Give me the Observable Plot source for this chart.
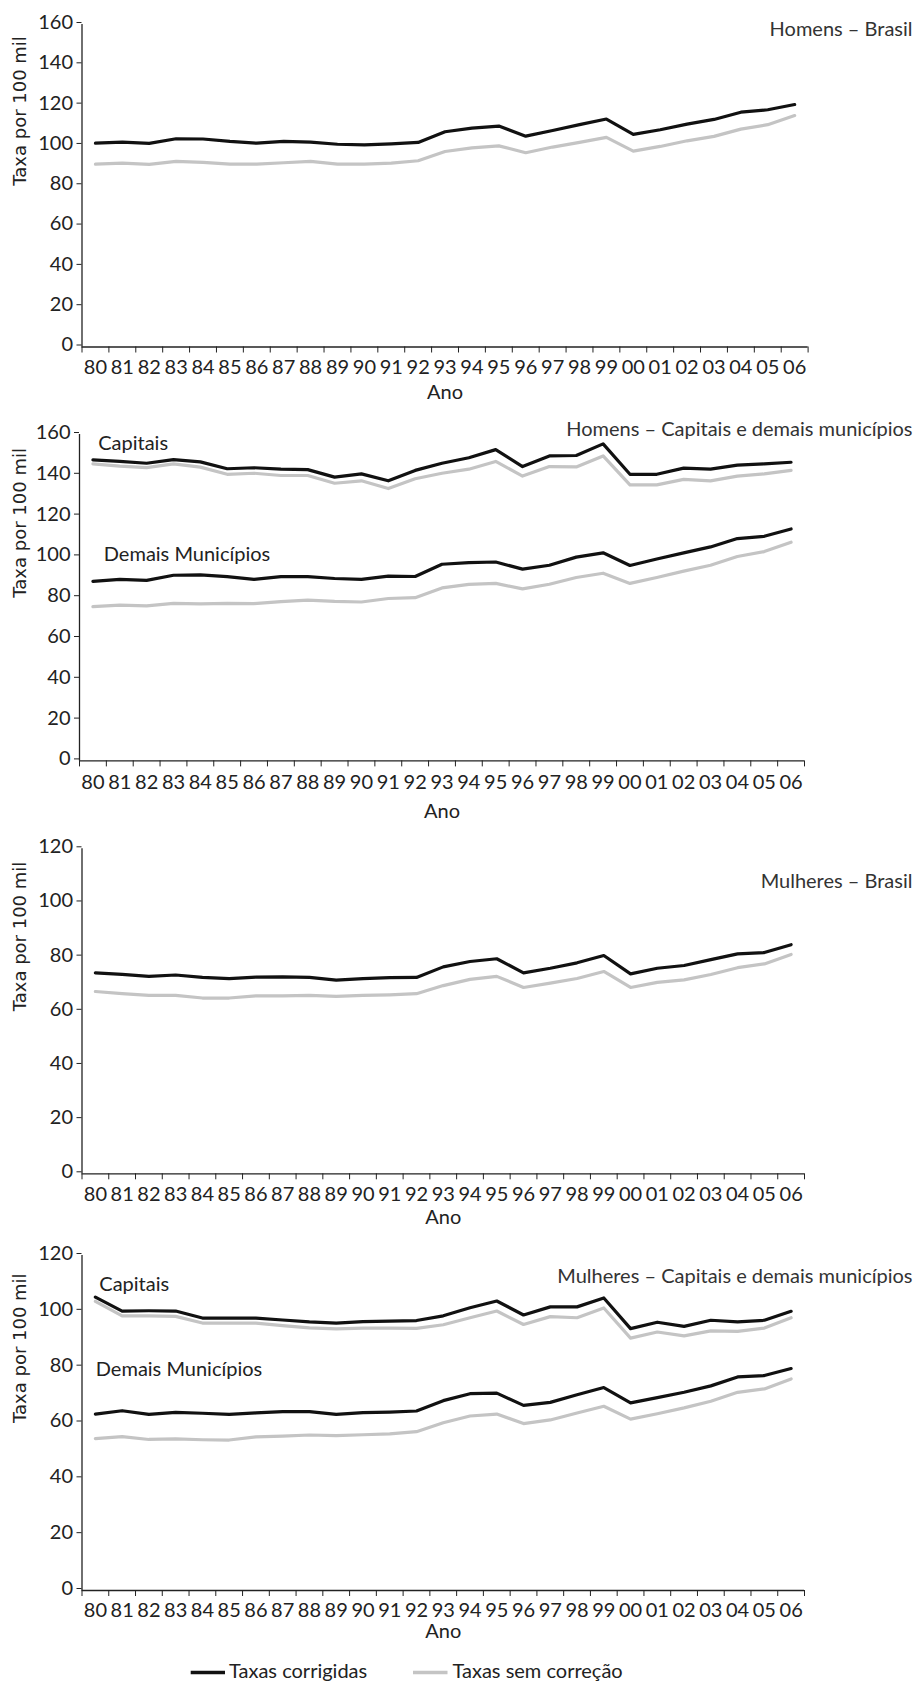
<!DOCTYPE html>
<html><head><meta charset="utf-8">
<script src="https://cdn.jsdelivr.net/npm/d3@7"></script>
<script src="https://cdn.jsdelivr.net/npm/@observablehq/plot@0.6"></script>
<style>
body{margin:0;background:#fff}
#root{position:relative;width:920px;height:1683px;overflow:hidden;background:#fff}
.pane{position:absolute;left:0}
</style>
</head><body><div id="root"></div>
<script>
// ---------- data ----------
const years = [1980,1981,1982,1983,1984,1985,1986,1987,1988,1989,1990,1991,1992,1993,1994,1995,1996,1997,1998,1999,2000,2001,2002,2003,2004,2005,2006];
const yearLabels = ["80","81","82","83","84","85","86","87","88","89","90","91","92","93","94","95","96","97","98","99","00","01","02","03","04","05","06"];
const seriesNames = ["Taxas corrigidas","Taxas sem correção"];
const groupLabels = ["Capitais","Demais Municípios"];
const panelTitles = ["Homens – Brasil","Homens – Capitais e demais municípios","Mulheres – Brasil","Mulheres – Capitais e demais municípios"];
const yTicksHomens = [0,20,40,60,80,100,120,140,160];
const yTicksMulheres = [0,20,40,60,80,100,120];

const homensBrasilCorr = [101.1,101.6,101.0,103.3,103.2,102.0,101.1,102.0,101.6,100.6,100.3,100.8,101.5,106.8,108.6,109.6,104.6,107.4,110.3,113.1,105.5,107.8,110.6,112.9,116.5,117.7,120.3];
const homensBrasilSem  = [90.7,91.2,90.6,92.1,91.6,90.7,90.7,91.4,92.1,90.7,90.7,91.2,92.4,97.0,98.8,99.8,96.4,99.2,101.5,104.0,97.2,99.5,102.3,104.5,108.1,110.3,114.8];

const homensCapCorr = [147.6,146.8,145.9,147.7,146.6,143.2,143.7,143.0,142.8,139.1,140.7,137.3,142.4,145.9,148.6,152.6,144.3,149.5,149.7,155.4,140.5,140.5,143.5,143.0,145.0,145.6,146.4];
const homensCapSem  = [145.6,144.5,143.8,145.6,144.0,140.5,141.0,139.9,139.9,136.1,137.3,133.5,138.3,141.0,143.0,146.8,139.6,144.3,144.1,149.5,135.3,135.3,138.0,137.3,139.6,140.7,142.4];
const homensDemCorr = [88.0,89.0,88.5,91.0,91.2,90.3,89.0,90.3,90.3,89.4,89.0,90.6,90.4,96.4,97.2,97.5,94.0,95.9,99.9,102.0,95.8,99.0,102.0,104.9,109.0,110.1,113.7];
const homensDemSem  = [75.6,76.4,76.0,77.2,77.0,77.2,77.1,78.1,78.8,78.2,77.9,79.6,80.0,84.8,86.5,87.0,84.3,86.6,89.9,92.0,87.0,89.9,93.0,95.9,100.2,102.6,107.2];

const mulheresBrasilCorr = [74.2,73.6,72.9,73.4,72.5,72.1,72.6,72.7,72.5,71.5,72.1,72.4,72.5,76.4,78.4,79.4,74.2,75.9,77.9,80.6,73.8,75.9,76.9,79.1,81.2,81.7,84.6];
const mulheresBrasilSem  = [67.3,66.5,65.9,65.9,64.9,64.9,65.7,65.7,65.9,65.5,65.9,66.1,66.5,69.5,71.8,72.9,68.8,70.4,72.1,74.7,68.8,70.7,71.6,73.6,76.1,77.5,81.0];

const mulheresCapCorr = [105.1,100.1,100.2,100.1,97.6,97.6,97.6,96.9,96.2,95.8,96.3,96.5,96.7,98.4,101.3,103.7,98.7,101.6,101.6,104.8,93.8,96.1,94.6,96.8,96.2,96.8,100.0];
const mulheresCapSem  = [103.6,98.4,98.4,98.2,95.8,95.8,95.8,94.9,94.1,93.7,94.0,94.0,93.9,95.2,97.7,100.1,95.3,98.1,97.7,101.2,90.4,92.6,91.2,93.0,92.8,94.0,97.7];
const mulheresDemCorr = [63.2,64.4,63.1,63.8,63.5,63.1,63.6,64.1,64.1,63.1,63.7,63.9,64.3,68.0,70.5,70.7,66.3,67.4,70.1,72.7,67.2,69.1,71.0,73.3,76.5,77.0,79.5];
const mulheresDemSem  = [54.4,55.1,54.1,54.3,54.0,53.9,55.0,55.3,55.7,55.5,55.8,56.1,56.9,60.1,62.5,63.2,59.8,61.1,63.6,66.0,61.4,63.3,65.4,67.8,71.0,72.2,75.8];

// ---------- styles ----------
const INK = "#222";
const BLACK = "#111";
const GRAY = "#c4c4c4";
const FONT = "Lato, 'Open Sans', sans-serif";

const rowsOf = (vals) => vals.map((v, i) => ({year: years[i], value: v}));
const xMin = years[0] - 0.5, xMax = years[years.length - 1] + 0.5;
const boundaries = [...years.map(y => y - 0.5), xMax];

function makePanel(cfg) {
  const W = 920;
  const marks = [
    Plot.ruleX([xMin], {stroke: INK, strokeWidth: 1.3}),
    Plot.ruleY([0], {stroke: INK, strokeWidth: 1.3}),
    Plot.axisY({ticks: cfg.yTicks, tickSize: 5, tickPadding: 4, label: null, fontSize: 20, dy: -2, tickFormat: d => String(d)}),
    Plot.axisX({ticks: boundaries, tickSize: 6, tickFormat: () => "", label: null}),
    Plot.axisX({ticks: years, tickSize: 0, tickPadding: cfg.tickPad, label: null, fontSize: 20,
                tickFormat: d => yearLabels[years.indexOf(d)]}),
  ];
  // gray (sem correção) first, black (corrigidas) on top
  for (const s of cfg.sem) marks.push(Plot.line(rowsOf(s), {x: "year", y: "value", stroke: GRAY, strokeWidth: 3.2}));
  for (const s of cfg.corr) marks.push(Plot.line(rowsOf(s), {x: "year", y: "value", stroke: BLACK, strokeWidth: 3.2}));
  marks.push(
    Plot.text([cfg.title], {text: d => d, frameAnchor: "top-right", textAnchor: "end", lineAnchor: "top",
      dx: cfg.mr - 8, dy: cfg.titleDy, fontSize: 20, fill: "#333"}),
    Plot.text(["Ano"], {text: d => d, frameAnchor: "bottom", lineAnchor: "middle", dy: cfg.anoDy, fontSize: 20, fill: INK}),
    Plot.text(["Taxa por 100 mil"], {text: d => d, frameAnchor: "left", rotate: -90, dx: 20 - cfg.ml,
      fontFamily: "'DejaVu Sans', sans-serif", fontSize: 18, fill: INK})
  );
  (cfg.labels || []).forEach(l => marks.push(
    Plot.text([l.text], {text: d => d, frameAnchor: "top-left", textAnchor: "start", lineAnchor: "top",
      dx: l.dx, dy: l.dy, fontSize: 20, fill: INK})
  ));
  const svg = Plot.plot({
    width: W, height: cfg.height,
    marginTop: cfg.mt, marginBottom: cfg.mb, marginLeft: cfg.ml, marginRight: cfg.mr,
    x: {type: "linear", domain: [xMin, xMax]},
    y: {domain: [0, cfg.ymax]},
    style: {fontFamily: FONT, fontSize: "20px", color: INK, background: "transparent", overflow: "visible"},
    marks
  });
  const div = document.createElement("div");
  div.className = "pane";
  div.style.top = cfg.top + "px";
  div.appendChild(svg);
  document.getElementById("root").appendChild(div);
}

makePanel({top: 0, height: 420, mt: 24, mb: 73.5, ml: 81.5, mr: 112.4, ymax: 160, yTicks: yTicksHomens,
  title: panelTitles[0], titleDy: -2.3, tickPad: 12.5, anoDy: 46,
  corr: [homensBrasilCorr], sem: [homensBrasilSem]});

makePanel({top: 410, height: 420, mt: 24, mb: 69.6, ml: 79, mr: 116, ymax: 160, yTicks: yTicksHomens,
  title: panelTitles[1], titleDy: -12.3, tickPad: 14, anoDy: 51,
  corr: [homensCapCorr, homensDemCorr], sem: [homensCapSem, homensDemSem],
  labels: [{text: groupLabels[0], dx: 18.7, dy: 1}, {text: groupLabels[1], dx: 24.3, dy: 112}]});

makePanel({top: 830, height: 400, mt: 18.3, mb: 56.7, ml: 81.5, mr: 116, ymax: 120, yTicks: yTicksMulheres,
  title: panelTitles[2], titleDy: 25, tickPad: 12.5, anoDy: 44,
  corr: [mulheresBrasilCorr], sem: [mulheresBrasilSem]});

makePanel({top: 1230, height: 430, mt: 25, mb: 70, ml: 81.5, mr: 116, ymax: 120, yTicks: yTicksMulheres,
  title: panelTitles[3], titleDy: 13, tickPad: 12, anoDy: 41,
  corr: [mulheresCapCorr, mulheresDemCorr], sem: [mulheresCapSem, mulheresDemSem],
  labels: [{text: groupLabels[0], dx: 17.3, dy: 21.7}, {text: groupLabels[1], dx: 13.8, dy: 106.7}]});

// ---------- legend ----------
(function legend() {
  const svg = d3.create("svg").attr("width", 920).attr("height", 28)
    .style("position", "absolute").style("left", "0px").style("top", "1655px").style("overflow", "visible");
  const items = [
    {name: seriesNames[0], color: BLACK, x0: 190.7, x1: 225, tx: 229},
    {name: seriesNames[1], color: GRAY, x0: 413, x1: 447.5, tx: 452.5}
  ];
  for (const it of items) {
    svg.append("line").attr("x1", it.x0).attr("x2", it.x1).attr("y1", 17.5).attr("y2", 17.5)
      .attr("stroke", it.color).attr("stroke-width", 3.5);
    svg.append("text").attr("x", it.tx).attr("y", 23).attr("fill", INK)
      .style("font-family", FONT).style("font-size", "20px").text(it.name);
  }
  document.getElementById("root").appendChild(svg.node());
})();
</script>
</body></html>
